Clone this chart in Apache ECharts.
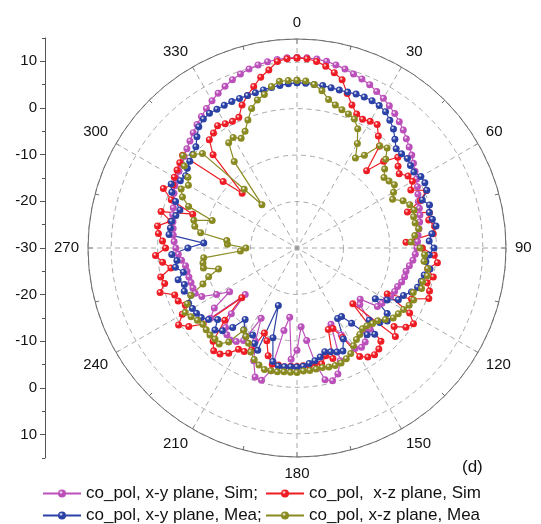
<!DOCTYPE html>
<html>
<head>
<meta charset="utf-8">
<script src="https://cdn.jsdelivr.net/npm/echarts@6/dist/echarts.min.js"></script>
<style>
html,body{margin:0;padding:0;background:#fff;}
#chart{width:541px;height:524px;}
</style>
</head>
<body>
<div id="chart"></div>
<script>
// Angles (degrees) of the sampled points, 3-degree step
const angles = [];
for (let a = 0; a < 360; a += 3) angles.push(a);

// Gain values (dB), one per angle
const xySim = [11.0,11.0,10.9,10.7,10.3,9.9,9.4,9.0,8.5,7.8,
  7.2,6.5,5.8,5.0,4.2,3.3,2.5,1.8,1.0,0.3,
  -0.3,-0.9,-1.5,-2.0,-2.3,-2.6,-3.0,-3.4,-3.8,-4.0,
  -4.2,-4.5,-4.9,-5.5,-6.0,-6.0,-6.3,-6.8,-7.0,-7.3,
  -7.8,-8.2,-8.6,-12.5,-11.8,-8.0,-6.5,-7.0,-5.0,-4.5,
  -5.0,-9.0,-12.0,-4.0,-1.5,-0.4,-1.0,-5.0,-10.0,-13.0,
  -8.0,-6.0,-15.0,-12.0,-3.0,-0.5,-0.8,-4.0,-8.0,-13.0,
  -7.0,-6.0,-5.5,-6.0,-7.0,-10.0,-15.0,-6.0,-8.0,-12.7,
  -10.0,-7.0,-6.0,-6.0,-6.0,-5.9,-5.8,-5.7,-5.0,-4.4,
  -3.9,-3.5,-3.2,-3.0,-2.7,-2.3,-2.0,-1.5,-1.0,-0.5,
  0.0,0.3,0.8,1.3,1.9,2.6,3.4,4.2,5.0,5.8,
  6.6,7.4,8.1,8.8,9.4,9.9,10.3,10.6,10.8,11.0];

const xzSim = [10.9,10.8,10.4,9.6,8.6,7.5,5.0,3.0,1.6,1.1,
  1.5,1.7,-0.2,-1.8,-7.6,-3.6,-0.8,-2.0,-2.8,-1.5,
  -1.3,-2.5,0.5,-1.5,-5.0,-0.5,-1.0,0.0,-0.5,-6.5,
  -3.0,-0.4,0.4,-1.5,0.0,-1.0,0.0,0.4,-3.0,-8.2,
  -2.0,-0.1,-1.0,-3.1,-1.5,-13.0,-3.0,-2.0,-1.6,-2.0,
  -3.0,-8.4,-11.0,-11.2,-5.0,-6.0,-4.5,-5.0,-4.5,-4.6,
  -4.5,-4.5,-4.3,-4.5,-4.4,-6.0,-9.0,-10.4,-6.0,-5.0,
  -4.8,-3.0,-1.8,-1.5,-3.0,-8.0,-14.0,-4.0,-1.2,0.4,
  -1.5,-3.0,-2.0,-1.8,1.0,-0.5,0.0,-2.5,-0.9,0.5,
  -1.7,-1.0,0.0,0.4,-2.2,0.3,-6.4,-1.0,1.5,0.0,
  0.5,0.8,1.2,1.7,-8.6,-13.3,-3.0,0.0,0.6,1.4,
  0.9,0.6,0.8,3.0,4.5,6.0,7.6,8.8,10.4,10.8];

const xyMea = [5.6,5.5,5.4,5.4,5.3,5.2,5.3,5.5,5.6,5.6,
  5.4,5.0,4.0,3.0,1.5,0.2,0.3,0.6,0.2,0.0,
  0.8,0.9,0.6,-1.1,0.0,-0.5,-0.2,0.3,-0.8,-1.5,
  -0.5,-1.5,-2.1,-1.0,-2.0,-2.3,-2.7,-3.6,-4.9,-5.5,
  -7.6,-9.9,-6.0,-5.0,-6.0,-8.0,-5.0,-6.0,-10.0,-12.4,
  -12.5,-8.0,-5.7,-6.0,-6.5,-6.9,-6.0,-5.4,-5.0,-4.5,
  -4.4,-4.4,-4.3,-4.3,-5.0,-10.0,-17.0,-6.4,-7.5,-9.0,
  -8.0,-9.0,-11.0,-8.0,-6.0,-5.0,-7.0,-5.5,-4.5,-4.2,
  -4.0,-3.8,-5.0,-4.0,-4.5,-3.5,-5.0,-3.5,-4.0,-3.0,
  -6.5,-9.9,-2.3,-2.4,-2.4,-3.0,-3.5,-2.0,-0.5,0.4,
  -1.0,-1.4,-0.8,-0.3,0.2,0.8,2.2,3.6,4.3,4.6,
  4.5,4.5,4.5,4.5,4.5,4.6,4.8,5.0,5.2,5.4];

const xzMea = [6.1,6.0,5.4,4.3,2.7,1.9,1.3,0.9,0.4,-1.2,
  -4.0,-6.9,-5.3,-1.7,-1.0,-3.0,-4.6,-5.9,-5.5,-5.0,
  -6.0,-6.9,-5.0,-4.0,-3.5,-4.0,-4.0,-3.5,-4.5,-5.4,
  -3.5,-2.5,-2.5,-1.5,-1.3,-2.0,-1.8,-3.2,-2.5,-2.9,
  -3.5,-4.0,-4.4,-5.5,-6.6,-7.0,-7.5,-7.6,-7.0,-6.5,
  -5.7,-4.5,-3.9,-3.5,-3.4,-3.5,-3.7,-3.6,-3.5,-3.5,
  -3.2,-3.2,-3.2,-3.0,-3.0,-2.9,-3.5,-4.3,-5.5,-7.0,
  -8.0,-8.9,-5.0,-3.4,-3.6,-3.5,-3.7,-3.9,-3.5,-2.8,
  -2.2,-3.5,-5.0,-8.3,-10.0,-12.5,-9.4,-9.5,-9.8,-17.8,
  -19.0,-15.0,-14.8,-9.0,-7.5,-7.0,-10.8,-5.0,-3.0,-2.0,
  -3.0,-2.0,0.0,1.6,0.0,-1.2,-13.0,-18.0,-7.0,-3.0,
  -2.5,-3.5,-2.5,-0.5,1.6,3.0,3.8,5.2,6.1,6.1];

const seriesNames = ['co_pol, x-y plane, Sim;', 'co_pol,  x-z plane, Sim',
                     'co_pol, x-y plane, Mea;', 'co_pol, x-z plane, Mea'];

// Left scale: positions (relative to centre) and their printed labels
const leftTickValues = [-40, -30, -20, -10, 0, 10, 20, 30, 40];
const leftTickLabels = ['10', '0', '-10', '-20', '-30', '-20', '-10', '0', '10'];
const leftMinorValues = [-45, -35, -25, -15, -5, 5, 15, 25, 35, 45];

const FONT = '"Liberation Sans", Arial, Helvetica, sans-serif';
const colors = ['#BB50BB', '#EE1C24', '#2C41A6', '#8A8A22'];

function pairs(vals) {
  const d = angles.map((a, i) => [vals[i], a]);
  d.push([vals[0], 360]); // close the curve
  return d;
}
function ball(c) {
  return {
    type: 'radial', x: 0.38, y: 0.35, r: 0.7,
    colorStops: [{offset: 0, color: '#ffffff'}, {offset: 0.35, color: c}, {offset: 1, color: c}]
  };
}
function mkSeries(name, vals, c) {
  return {
    name: name, type: 'line', coordinateSystem: 'polar',
    data: pairs(vals), symbol: 'circle', symbolSize: 7,
    lineStyle: {color: c, width: 1.2},
    itemStyle: {color: ball(c), borderWidth: 0},
    emphasis: {disabled: true}, clip: false
  };
}

const chart = echarts.init(document.getElementById('chart'), null, {renderer: 'canvas'});
const legendBase = {
  orient: 'horizontal', padding: 0, itemWidth: 38, itemHeight: 10,
  textStyle: {fontSize: 17, color: '#111', fontFamily: FONT},
  selectedMode: false
};
chart.setOption({
  animation: false,
  title: {text: '(d)', left: 462, top: 459, padding: 0,
          textStyle: {fontSize: 17, fontWeight: 'normal', color: '#111', fontFamily: FONT}},
  legend: [
    Object.assign({data: [seriesNames[0]], left: 42, top: 485}, legendBase),
    Object.assign({data: [seriesNames[1]], left: 265, top: 485}, legendBase),
    Object.assign({data: [seriesNames[2]], left: 42, top: 507}, legendBase),
    Object.assign({data: [seriesNames[3]], left: 265, top: 507}, legendBase)
  ],
  polar: {center: [297, 248], radius: 209},
  angleAxis: {
    type: 'value', min: 0, max: 360, interval: 30, startAngle: 90, clockwise: true,
    axisLine: {lineStyle: {color: '#6a6a6a', width: 1}},
    axisTick: {show: true, inside: true, length: 5, lineStyle: {color: '#6a6a6a'}},
    minorTick: {show: true, splitNumber: 2, length: 4, lineStyle: {color: '#6a6a6a'}},
    axisLabel: {margin: 9, color: '#111', fontSize: 15, fontFamily: FONT},
    splitLine: {show: true, lineStyle: {color: '#a8a8a8', width: 1, type: [5, 4]}}
  },
  radiusAxis: {
    type: 'value', min: -30, max: 15, interval: 10,
    axisLine: {show: false}, axisTick: {show: false}, axisLabel: {show: false},
    splitLine: {show: true, lineStyle: {color: '#a8a8a8', width: 1, type: [5, 4]}}
  },
  grid: {left: 45, top: 38, height: 420, width: 1},
  xAxis: {type: 'value', show: false, min: 0, max: 1},
  yAxis: [{
    type: 'value', min: -45, max: 45, position: 'left',
    axisLine: {show: true, lineStyle: {color: '#555', width: 1}},
    axisTick: {show: true, length: 5, customValues: leftTickValues, lineStyle: {color: '#555'}},
    axisLabel: {show: true, customValues: leftTickValues, margin: 8, color: '#111', fontSize: 15, fontFamily: FONT,
      formatter: function (v) { const i = leftTickValues.indexOf(Math.round(v)); return i >= 0 ? leftTickLabels[i] : ''; }},
    splitLine: {show: false}
  }, {
    type: 'value', min: -45, max: 45, position: 'left', offset: 0,
    axisLine: {show: false},
    axisTick: {show: true, length: 3, customValues: leftMinorValues, lineStyle: {color: '#555'}},
    axisLabel: {show: false},
    splitLine: {show: false}
  }],
  series: [
    mkSeries(seriesNames[0], xySim, colors[0]),
    mkSeries(seriesNames[1], xzSim, colors[1]),
    mkSeries(seriesNames[2], xyMea, colors[2]),
    mkSeries(seriesNames[3], xzMea, colors[3]),
    {type: 'scatter', coordinateSystem: 'polar', data: [[-30, 0]], symbol: 'rect', symbolSize: 5,
     itemStyle: {color: '#999'}, silent: true}
  ]
});
</script>
</body>
</html>
